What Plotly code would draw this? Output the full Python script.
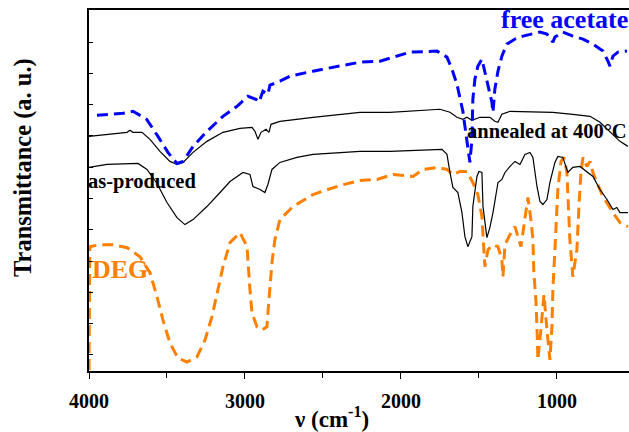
import plotly.graph_objects as go

# FTIR spectra: wavenumber (cm^-1) and transmittance (arbitrary units, offset per curve)

acetate_wn = [3949, 3782, 3718, 3630, 3558, 3494, 3436, 3397, 3333, 3244, 3141, 3051,
              2981, 2930, 2910, 2885, 2853, 2840, 2776, 2712, 2564, 2436, 2263, 2135,
              1942, 1769, 1705, 1673, 1641, 1603, 1583, 1571, 1558, 1545, 1539, 1526,
              1507, 1481, 1462, 1442, 1417, 1410, 1398, 1378, 1353, 1321, 1269, 1218,
              1109, 1064, 1026, 1013, 962, 898, 833, 769, 705, 673, 660, 641, 609, 551]
acetate_t = [255, 257, 259, 251, 234, 218, 207, 209, 224, 239, 254, 264,
             274, 271, 268, 279, 276, 285, 289, 294, 299, 303, 308, 309,
             318, 319, 313, 301, 286, 259, 236, 218, 208, 231, 271, 291,
             304, 311, 299, 284, 268, 258, 281, 299, 314, 326, 331, 334,
             338, 336, 328, 333, 338, 334, 331, 326, 319, 309, 304, 314, 318, 319]

annealed_wn = [4000, 3756, 3737, 3718, 3660, 3609, 3545, 3481, 3436, 3397, 3333, 3244,
               3141, 3032, 2955, 2936, 2917, 2897, 2865, 2846, 2833, 2776, 2564, 2263,
               2071, 1750, 1686, 1641, 1603, 1577, 1545, 1494, 1430, 1398, 1378, 1353,
               1301, 1128, 1026, 898, 788, 724, 660, 596, 545]
annealed_t = [234, 238, 240, 238, 238, 231, 219, 209, 206, 208, 218, 229,
              238, 242, 243, 239, 231, 238, 241, 238, 246, 249, 253, 258,
              258, 261, 258, 253, 251, 253, 250, 253, 253, 249, 248, 256,
              259, 258, 258, 256, 254, 248, 238, 229, 224]

produced_wn = [4000, 3885, 3686, 3628, 3564, 3500, 3436, 3385, 3333, 3244, 3160, 3096,
               3013, 2968, 2949, 2904, 2872, 2853, 2827, 2776, 2667, 2564, 2263, 2071,
               1737, 1705, 1686, 1667, 1635, 1609, 1590, 1571, 1545, 1539, 1513, 1500,
               1481, 1474, 1449, 1430, 1410, 1378, 1353, 1333, 1301, 1269, 1237, 1205,
               1173, 1154, 1128, 1109, 1090, 1064, 1045, 1013, 994, 962, 930, 898,
               853, 808, 769, 724, 679, 641, 616, 596, 545]
produced_t = [203, 206, 207, 201, 187, 168, 153, 146, 151, 164, 178, 189,
              198, 196, 184, 181, 178, 186, 201, 208, 213, 216, 219, 219,
              221, 216, 198, 183, 178, 158, 134, 124, 134, 164, 194, 199,
              198, 164, 133, 143, 158, 188, 191, 198, 204, 209, 206, 216,
              218, 213, 184, 169, 166, 171, 188, 208, 214, 213, 198, 203,
              204, 199, 194, 181, 171, 161, 163, 158, 158]

deg_wn = [4000, 3995, 3929, 3846, 3756, 3673, 3609, 3564, 3526, 3481, 3430, 3372,
          3308, 3256, 3212, 3180, 3141, 3096, 3032, 2987, 2981, 2968, 2955, 2923,
          2891, 2859, 2853, 2840, 2827, 2808, 2776, 2692, 2564, 2391, 2263, 2154,
          2051, 1923, 1859, 1769, 1705, 1667, 1622, 1577, 1539, 1507, 1481, 1474,
          1462, 1442, 1410, 1378, 1353, 1346, 1333, 1301, 1269, 1250, 1231, 1218,
          1199, 1186, 1167, 1154, 1148, 1135, 1128, 1122, 1103, 1083, 1064, 1045,
          1032, 1026, 1013, 1000, 994, 974, 955, 936, 930, 917, 898, 872,
          859, 846, 833, 808, 788, 769, 744, 705, 641, 596, 545]
deg_t = [1, 124, 126, 126, 123, 114, 98, 74, 51, 28, 13, 9,
         14, 31, 54, 78, 104, 128, 138, 124, 108, 81, 58, 44,
         41, 44, 58, 84, 108, 131, 151, 164, 176, 185, 190, 191,
         196, 194, 201, 203, 201, 196, 199, 199, 188, 176, 154, 136,
         104, 121, 126, 124, 111, 94, 126, 136, 144, 134, 124, 138,
         161, 173, 151, 131, 98, 71, 44, 11, 41, 76, 41, 11,
         44, 81, 121, 154, 181, 209, 213, 198, 171, 131, 94, 121,
         164, 198, 213, 204, 209, 198, 188, 174, 158, 148, 144]

x_ticks = [4000, 3000, 2000, 1000]
x_tick_text = ["4000", "3000", "2000", "1000"]

SERIF = "Liberation Serif, Times New Roman, serif"
BLUE = "#0000FF"
ORANGE = "#FF8000"

fig = go.Figure()
fig.add_trace(go.Scatter(x=deg_wn, y=deg_t, mode="lines",
                         line=dict(color=ORANGE, width=3, dash="11px,6px")))
fig.add_trace(go.Scatter(x=produced_wn, y=produced_t, mode="lines",
                         line=dict(color="black", width=1.2)))
fig.add_trace(go.Scatter(x=annealed_wn, y=annealed_t, mode="lines",
                         line=dict(color="black", width=1.2)))
fig.add_trace(go.Scatter(x=acetate_wn, y=acetate_t, mode="lines",
                         line=dict(color=BLUE, width=3, dash="11px,6px")))

fig.update_layout(
    width=629, height=432,
    margin=dict(l=89, r=0, t=10, b=61),
    paper_bgcolor="white", plot_bgcolor="white",
    showlegend=False,
    font=dict(family=SERIF, color="black"),
    xaxis=dict(
        range=[4000, 538], autorange=False,
        showgrid=False, zeroline=False,
        showline=True, linecolor="black", linewidth=1.5, mirror=True,
        ticks="outside", ticklen=6, tickwidth=1.2, tickcolor="black",
        tickvals=x_ticks, ticktext=x_tick_text, ticklabelstandoff=5,
        tickfont=dict(family=SERIF, size=20, color="black", weight="bold"),
        minor=dict(dtick=500, ticks="outside", ticklen=5, tickwidth=1.2, tickcolor="black"),
    ),
    yaxis=dict(
        range=[0, 360], autorange=False,
        showgrid=False, zeroline=False,
        showline=True, linecolor="black", linewidth=1.5, mirror=False,
        ticks="inside", ticklen=4, tickwidth=1.2, tickcolor="black",
        tick0=16, dtick=31.2, showticklabels=False,
    ),
)

annotations = [
    dict(text="<b>free acetate</b>", x=1, y=(370.5 - 20) / 360, xanchor="right", yanchor="middle",
         font=dict(size=26, color=BLUE)),
    dict(text="<b>annealed at 400°C</b>", x=(628 - 89) / 540, y=(370.5 - 131) / 360,
         xanchor="right", yanchor="middle", font=dict(size=20.5, color="black")),
    dict(text="<b>as-produced</b>", x=(87 - 89) / 540, y=(370.5 - 182) / 360,
         xanchor="left", yanchor="middle", font=dict(size=20.5, color="black")),
    dict(text="<b>DEG</b>", x=(91 - 89) / 540, y=(370.5 - 269) / 360,
         xanchor="left", yanchor="middle", font=dict(size=26, color=ORANGE)),
    dict(text="<b>Transmittance (a. u.)</b>", x=(23 - 89) / 540, y=(370.5 - 168) / 360,
         xanchor="center", yanchor="middle", textangle=-90, font=dict(size=24.5, color="black")),
    dict(text="<b>ν (cm<sup>-1</sup>)</b>", x=(331 - 89) / 540, y=(370.5 - 417) / 360,
         xanchor="center", yanchor="middle", font=dict(size=23, color="black")),
]
for a in annotations:
    a.update(xref="paper", yref="paper", showarrow=False, borderpad=0)
    a["font"]["family"] = SERIF
fig.update_layout(annotations=annotations)

fig.write_html("out.html")
